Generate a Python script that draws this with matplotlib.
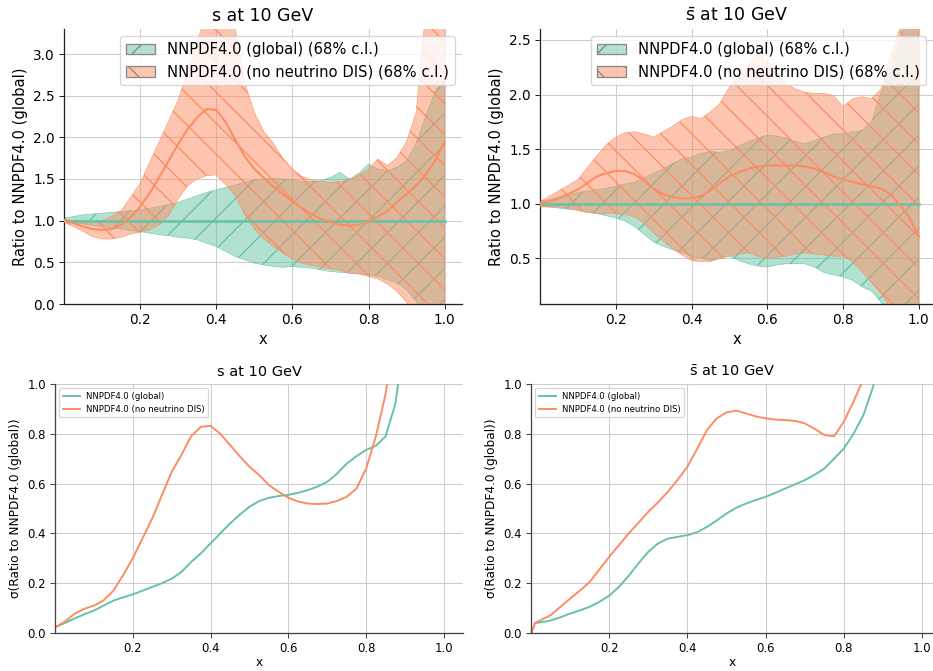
import numpy as np
import matplotlib
matplotlib.use("Agg")
import matplotlib.pyplot as plt
import matplotlib.patches as mpatches
from matplotlib.colors import to_rgba

# ---------------- data ----------------
x_band = [1e-5, 0.025, 0.05, 0.075, 0.1, 0.125, 0.15, 0.175, 0.2, 0.225, 0.25, 0.275, 0.3,
          0.325, 0.35, 0.375, 0.4, 0.425, 0.45, 0.475, 0.5, 0.525, 0.55, 0.575, 0.6, 0.625,
          0.65, 0.675, 0.7, 0.725, 0.75, 0.775, 0.8, 0.825, 0.85, 0.875, 0.9, 0.925, 0.95,
          0.975, 1.0]

# s at 10 GeV : ratio to global
s_glob_up = [1.03, 1.05, 1.07, 1.08, 1.09, 1.10, 1.11, 1.12, 1.13, 1.15, 1.17, 1.19, 1.22,
             1.26, 1.30, 1.34, 1.37, 1.40, 1.43, 1.46, 1.49, 1.50, 1.51, 1.50, 1.49, 1.47,
             1.47, 1.48, 1.52, 1.58, 1.50, 1.57, 1.68, 1.62, 1.60, 1.64, 1.72, 1.93, 2.25,
             2.55, 2.70]
s_glob_lo = [0.98, 0.97, 0.96, 0.94, 0.93, 0.91, 0.90, 0.88, 0.87, 0.85, 0.83, 0.82, 0.80,
             0.79, 0.77, 0.73, 0.69, 0.63, 0.57, 0.53, 0.49, 0.47, 0.45, 0.44, 0.45, 0.44,
             0.43, 0.41, 0.39, 0.38, 0.37, 0.36, 0.35, 0.33, 0.29, 0.25, 0.17, 0.03, -0.20,
             -0.40, -0.50]
s_glob_cv = [1.0] * len(x_band)
s_nonu_cv = [1.00, 0.97, 0.93, 0.90, 0.89, 0.90, 0.95, 1.04, 1.17, 1.33, 1.52, 1.72, 1.92,
             2.10, 2.24, 2.34, 2.33, 2.18, 1.97, 1.77, 1.62, 1.51, 1.41, 1.32, 1.23, 1.15,
             1.08, 1.02, 0.98, 0.95, 0.94, 0.95, 0.99, 1.05, 1.12, 1.22, 1.32, 1.42, 1.55,
             1.72, 1.95]
s_nonu_up = [1.02, 1.00, 0.99, 0.99, 1.00, 1.05, 1.12, 1.28, 1.45, 1.70, 1.95, 2.20, 2.45,
             2.80, 3.15, 3.50, 3.60, 3.50, 3.30, 2.65, 2.30, 2.07, 1.93, 1.75, 1.62, 1.53,
             1.49, 1.47, 1.46, 1.47, 1.49, 1.55, 1.62, 1.74, 1.66, 1.76, 1.95, 2.30, 3.50,
             4.00, 4.00]
s_nonu_lo = [0.98, 0.93, 0.87, 0.81, 0.78, 0.78, 0.80, 0.84, 0.86, 0.89, 0.95, 1.06, 1.26,
             1.42, 1.50, 1.54, 1.55, 1.43, 1.30, 1.07, 0.90, 0.78, 0.69, 0.61, 0.54, 0.49,
             0.46, 0.44, 0.42, 0.40, 0.37, 0.36, 0.33, 0.30, 0.24, 0.15, 0.02, -0.20, -0.50,
             -0.80, -1.00]

# sbar at 10 GeV : ratio to global
sb_glob_up = [1.02, 1.04, 1.06, 1.08, 1.10, 1.12, 1.13, 1.14, 1.16, 1.18, 1.20, 1.24, 1.28,
              1.32, 1.37, 1.41, 1.43, 1.46, 1.48, 1.47, 1.49, 1.53, 1.57, 1.60, 1.63, 1.62,
              1.60, 1.57, 1.55, 1.58, 1.61, 1.64, 1.64, 1.66, 1.67, 1.75, 2.02, 2.20, 2.50,
              2.90, 3.20]
sb_glob_lo = [0.98, 0.97, 0.96, 0.95, 0.94, 0.92, 0.91, 0.89, 0.87, 0.84, 0.79, 0.72, 0.65,
              0.61, 0.58, 0.55, 0.52, 0.50, 0.48, 0.50, 0.52, 0.48, 0.45, 0.43, 0.42, 0.44,
              0.45, 0.45, 0.45, 0.42, 0.37, 0.35, 0.33, 0.30, 0.24, 0.20, 0.10, -0.10, -0.30,
              -0.50, -0.70]
sb_glob_cv = [1.0] * len(x_band)
sb_nonu_cv = [1.00, 1.02, 1.05, 1.09, 1.13, 1.19, 1.25, 1.28, 1.30, 1.30, 1.27, 1.21, 1.14,
              1.09, 1.06, 1.05, 1.05, 1.07, 1.12, 1.19, 1.25, 1.29, 1.32, 1.34, 1.35, 1.35,
              1.35, 1.35, 1.34, 1.32, 1.29, 1.25, 1.22, 1.20, 1.18, 1.16, 1.14, 1.09, 0.99,
              0.87, 0.70]
sb_nonu_up = [1.02, 1.07, 1.12, 1.17, 1.22, 1.33, 1.44, 1.54, 1.61, 1.65, 1.66, 1.64, 1.61,
              1.66, 1.71, 1.77, 1.80, 1.78, 1.84, 1.92, 2.07, 2.17, 2.27, 2.38, 2.30, 2.20,
              2.10, 2.05, 2.02, 2.01, 2.01, 1.99, 1.89, 1.96, 1.98, 1.96, 2.05, 2.35, 2.60,
              2.90, 3.20]
sb_nonu_lo = [0.97, 0.97, 0.97, 0.96, 0.94, 0.92, 0.91, 0.91, 0.91, 0.90, 0.88, 0.82, 0.73,
              0.66, 0.59, 0.53, 0.48, 0.47, 0.47, 0.50, 0.52, 0.54, 0.55, 0.52, 0.50, 0.51,
              0.52, 0.54, 0.55, 0.54, 0.53, 0.52, 0.52, 0.47, 0.38, 0.28, 0.18, 0.05, -0.20,
              -0.50, -0.70]

# sigma of ratio
x_sig_s = [0.003, 0.025, 0.05, 0.075, 0.1, 0.125, 0.15, 0.175, 0.2, 0.225, 0.25, 0.275, 0.3,
           0.325, 0.35, 0.375, 0.4, 0.425, 0.45, 0.475, 0.5, 0.525, 0.55, 0.575, 0.6, 0.625,
           0.65, 0.675, 0.7, 0.725, 0.75, 0.775, 0.8, 0.825, 0.85, 0.875, 0.9]
sig_s_glob = [0.025, 0.040, 0.058, 0.075, 0.090, 0.110, 0.130, 0.143, 0.155, 0.170, 0.185,
              0.200, 0.218, 0.245, 0.285, 0.320, 0.360, 0.400, 0.440, 0.475, 0.507, 0.530,
              0.543, 0.550, 0.555, 0.563, 0.574, 0.588, 0.607, 0.640, 0.680, 0.710, 0.735,
              0.752, 0.790, 0.920, 1.200]
sig_s_nonu = [0.025, 0.045, 0.077, 0.097, 0.110, 0.131, 0.170, 0.232, 0.300, 0.380, 0.460,
              0.554, 0.647, 0.715, 0.790, 0.828, 0.832, 0.800, 0.755, 0.710, 0.668, 0.634,
              0.594, 0.567, 0.543, 0.528, 0.520, 0.518, 0.520, 0.530, 0.547, 0.580, 0.660,
              0.790, 0.960, 1.200, 1.400]

x_sig_sb = [0.001, 0.01, 0.025, 0.05, 0.075, 0.1, 0.125, 0.15, 0.175, 0.2, 0.225, 0.25, 0.275,
            0.3, 0.325, 0.35, 0.375, 0.4, 0.425, 0.45, 0.475, 0.5, 0.525, 0.55, 0.575, 0.6,
            0.625, 0.65, 0.675, 0.7, 0.725, 0.75, 0.775, 0.8, 0.825, 0.85, 0.875, 0.9]
sig_sb_glob = [0.000, 0.040, 0.043, 0.050, 0.063, 0.078, 0.091, 0.105, 0.125, 0.150, 0.185,
               0.230, 0.280, 0.326, 0.360, 0.379, 0.386, 0.393, 0.405, 0.426, 0.452, 0.480,
               0.503, 0.520, 0.534, 0.547, 0.563, 0.580, 0.597, 0.614, 0.635, 0.660, 0.700,
               0.741, 0.800, 0.875, 0.990, 1.200]
sig_sb_nonu = [0.000, 0.040, 0.052, 0.071, 0.105, 0.138, 0.170, 0.205, 0.255, 0.306, 0.353,
               0.400, 0.443, 0.487, 0.525, 0.567, 0.615, 0.668, 0.740, 0.815, 0.862, 0.886,
               0.893, 0.882, 0.870, 0.862, 0.857, 0.855, 0.852, 0.842, 0.820, 0.795, 0.790,
               0.849, 0.930, 1.020, 1.200, 1.400]

lab_glob = "NNPDF4.0 (global)"
lab_nonu = "NNPDF4.0 (no neutrino DIS)"
cl_suffix = " (68% c.l.)"
title_s = "s at 10 GeV"
title_sb = r"$\bar{\mathrm{s}}$ at 10 GeV"

# ---------------- style ----------------
GREEN = "#66c2a5"
ORANGE = "#fc8d62"
DPI = 93
W, H = 933, 671
PT = DPI / 72.0

plt.rcParams["mathtext.fontset"] = "dejavusans"
plt.rcParams["font.family"] = ["DejaVu Sans"]
plt.rcParams["hatch.linewidth"] = 1.0

fig = plt.figure(figsize=(W / DPI, H / DPI), dpi=DPI)


def px_axes(left, right, top, bottom):
    return fig.add_axes([left / W, 1 - bottom / H, (right - left) / W, (bottom - top) / H])


def style(ax, tick_px, spine_col):
    for s in ("top", "right"):
        ax.spines[s].set_visible(False)
    for s in ("left", "bottom"):
        ax.spines[s].set_color(spine_col)
        ax.spines[s].set_linewidth(1.0)
    ax.grid(True, color="#cccccc", linewidth=0.8)
    ax.set_axisbelow(True)
    ax.tick_params(labelsize=tick_px / PT, color=spine_col)


def ratio_panel(ax, title, glob_lo, glob_up, glob_cv, nonu_lo, nonu_up, nonu_cv, xmax, ylim):
    style(ax, 13.6, "#222222")
    ax.fill_between(x_band, glob_lo, glob_up, facecolor=to_rgba(GREEN, 0.5),
                    edgecolor=GREEN, hatch="/", linewidth=0.4, zorder=2)
    ax.fill_between(x_band, nonu_lo, nonu_up, facecolor=to_rgba(ORANGE, 0.5),
                    edgecolor=ORANGE, hatch="\\", linewidth=0.4, zorder=3)
    ax.plot(x_band, glob_cv, color=GREEN, lw=2.0, zorder=4)
    ax.plot(x_band, nonu_cv, color=ORANGE, lw=1.6, zorder=5)
    ax.set_xlim(1e-5, xmax)
    ax.set_ylim(*ylim)
    ax.set_xticks([0.2, 0.4, 0.6, 0.8, 1.0])
    ax.set_title(title, fontsize=17.4 / PT)
    ax.set_xlabel("x", fontsize=14.7 / PT)
    ax.set_ylabel("Ratio to NNPDF4.0 (global)", fontsize=14.7 / PT)
    handles = [
        mpatches.Patch(facecolor=to_rgba(GREEN, 0.5), edgecolor="#888888", hatch="/",
                       label=lab_glob + cl_suffix),
        mpatches.Patch(facecolor=to_rgba(ORANGE, 0.5), edgecolor="#888888", hatch="\\",
                       label=lab_nonu + cl_suffix),
    ]
    ax.legend(handles=handles, loc="upper right", fontsize=14.7 / PT)


def sigma_panel(ax, title, xs, glob, nonu, xmax):
    style(ax, 11.7, "#444444")
    ax.plot(xs, glob, color=GREEN, lw=1.5, label=lab_glob)
    ax.plot(xs, nonu, color=ORANGE, lw=1.5, label=lab_nonu)
    ax.set_xlim(1e-5, xmax)
    ax.set_ylim(0, 1.0)
    ax.set_xticks([0.2, 0.4, 0.6, 0.8, 1.0])
    ax.set_title(title, fontsize=14.5 / PT)
    ax.set_xlabel("x", fontsize=12.1 / PT, labelpad=0.5)
    ax.set_ylabel("\u03c3(Ratio to NNPDF4.0 (global))", fontsize=12.1 / PT)
    ax.legend(loc="upper left", fontsize=8.5 / PT)


ax1 = px_axes(64, 462, 29, 304)
ratio_panel(ax1, title_s, s_glob_lo, s_glob_up, s_glob_cv, s_nonu_lo, s_nonu_up, s_nonu_cv,
            1.0455, (0, 3.3))
ax2 = px_axes(540, 933, 29, 304)
ratio_panel(ax2, title_sb, sb_glob_lo, sb_glob_up, sb_glob_cv, sb_nonu_lo, sb_nonu_up,
            sb_nonu_cv, 1.0375, (0.082, 2.6))
ax3 = px_axes(55, 463, 384, 633)
sigma_panel(ax3, title_s, x_sig_s, sig_s_glob, sig_s_nonu, 1.049)
ax4 = px_axes(531, 933, 384, 633)
sigma_panel(ax4, title_sb, x_sig_sb, sig_sb_glob, sig_sb_nonu, 1.028)

fig.savefig("out.png", dpi=DPI)
